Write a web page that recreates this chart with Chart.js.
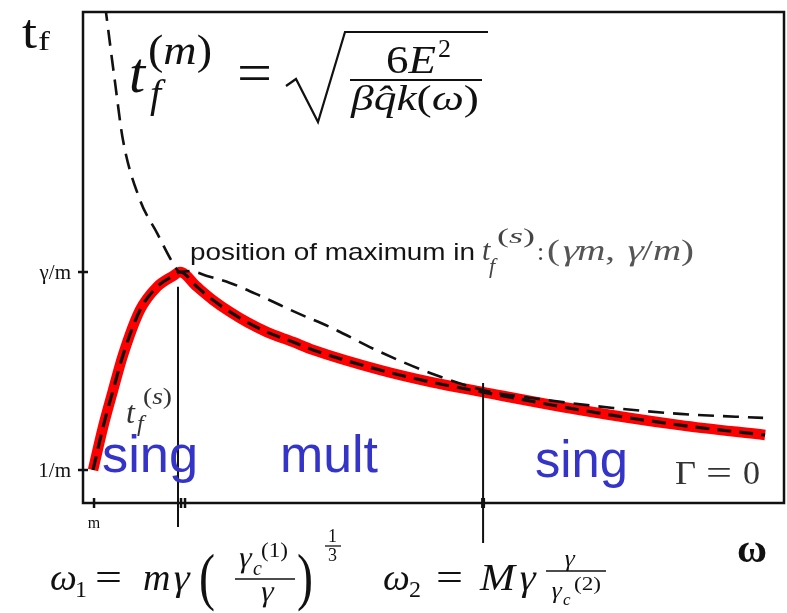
<!DOCTYPE html>
<html>
<head>
<meta charset="utf-8">
<script src="https://cdn.jsdelivr.net/npm/chart.js@4.4.0/dist/chart.umd.min.js"></script>
<style>
  body { margin: 0; background: #fff; }
  #wrap { width: 787px; height: 613px; }
</style>
</head>
<body>
<div id="wrap"><canvas id="plot" width="787" height="613"></canvas></div>
<script>
// omega in units where m = 1, gamma*m = 7 ; t_f in units where 1/m = 1, gamma/m = 7
const singX = [0.93, 1.63, 2.33, 3.02, 4.21, 5.40, 6.51, 7.0, 8.19, 9.30, 10.49, 11.68, 13.07, 14.89, 16.28, 20.96, 24.45, 28.15, 34.92, 41.89, 47.83];
const singY = [1.0, 2.30, 3.42, 4.48, 5.85, 6.55, 6.88, 7.0, 6.55, 6.15, 5.79, 5.48, 5.18, 4.88, 4.64, 4.03, 3.67, 3.36, 2.82, 2.36, 2.06];

const multX = [1.77, 2.47, 3.02, 4.21, 5.40, 6.51, 7.0, 7.70, 8.89, 10.49, 12.79, 15.17, 17.47, 20.96, 24.45, 28.15, 32.61, 37.22, 41.89, 47.69];
const multY = [15.09, 12.73, 11.0, 9.18, 8.18, 7.27, 7.0, 7.03, 6.88, 6.67, 6.24, 5.76, 5.33, 4.58, 3.94, 3.42, 3.12, 2.88, 2.70, 2.58];

// region boundaries omega_1, omega_2 (vertical markers)
const boundX = [6.86, 28.15];
const boundTop = [6.55, 3.64];
const boundBottom = [-0.73, -1.21];

const yTicks = [1, 7];
const yTickLabels = ['1/m', 'γ/m'];
const xTicks = [1, 7.07, 7.35, 28.15];
const xTickLabels = ['m', '', '', ''];

const pts = (xs, ys) => xs.map((x, i) => ({ x: x, y: ys[i] }));

const SERIF = '"Liberation Serif", "DejaVu Serif", serif';
const SANS = '"Liberation Sans", Arial, sans-serif';
const BLUE = '#3434c8';

function put(ctx, s, x, base, font, color, w) {
  ctx.save();
  ctx.font = font;
  ctx.fillStyle = color;
  ctx.textAlign = 'left';
  ctx.textBaseline = 'alphabetic';
  ctx.translate(x, base);
  if (w) {
    const m = ctx.measureText(s).width;
    ctx.scale(w / m, 1);
  }
  ctx.fillText(s, 0, 0);
  ctx.restore();
}

// math run: tokens [text, kind], kind i = italic, r = roman, g = slanted roman (greek)
function run(ctx, x, base, size, tokens, color, fitW) {
  const fontOf = k => (k === 'i' ? 'italic ' : '') + size + 'px ' + SERIF;
  ctx.save();
  ctx.textAlign = 'left';
  ctx.textBaseline = 'alphabetic';
  let total = 0;
  const ws = tokens.map(([t, k]) => {
    ctx.font = fontOf(k);
    const w = ctx.measureText(t).width;
    total += w;
    return w;
  });
  ctx.translate(x, base);
  if (fitW) ctx.scale(fitW / total, 1);
  ctx.fillStyle = color;
  let cx = 0;
  tokens.forEach(([t, k], i) => {
    ctx.save();
    ctx.font = fontOf(k);
    ctx.translate(cx, 0);
    if (k === 'g') ctx.transform(1, 0, -0.22, 1, 0, 0);
    ctx.fillText(t, 0, 0);
    ctx.restore();
    cx += ws[i];
  });
  ctx.restore();
}

function hline(ctx, x0, x1, y, lw) {
  ctx.beginPath();
  ctx.lineWidth = lw;
  ctx.moveTo(x0, y);
  ctx.lineTo(x1, y);
  ctx.stroke();
}

const decor = {
  id: 'decor',
  afterDatasetsDraw(chart) {
    const ctx = chart.ctx;
    const a = chart.chartArea;
    const xs = chart.scales.x, ys = chart.scales.y;
    const INK = '#111';
    ctx.save();
    ctx.strokeStyle = INK;
    ctx.fillStyle = INK;

    // frame
    ctx.lineWidth = 2.5;
    ctx.strokeRect(a.left, a.top, a.right - a.left, a.bottom - a.top);

    // ticks across the axes
    yTicks.forEach((v, i) => {
      const py = ys.getPixelForValue(v);
      hline(ctx, a.left - 5, a.left + 5, py, 2.5);
      const font = '21px ' + SERIF;
      ctx.font = font;
      const w = ctx.measureText(yTickLabels[i]).width;
      put(ctx, yTickLabels[i], a.left - 12 - w, py + 7, font, INK);
    });
    xTicks.forEach((v, i) => {
      const px = xs.getPixelForValue(v);
      ctx.beginPath();
      ctx.lineWidth = i === xTicks.length - 1 ? 4 : 2.5;
      ctx.moveTo(px, a.bottom - 5);
      ctx.lineTo(px, a.bottom + 5);
      ctx.stroke();
      if (xTickLabels[i]) {
        ctx.font = '16px ' + SERIF;
        const w = ctx.measureText(xTickLabels[i]).width;
        put(ctx, xTickLabels[i], px - w / 2, a.bottom + 25, ctx.font, INK);
      }
    });

    // axis titles
    put(ctx, 't', 22, 48, '48px ' + SERIF, INK, 15);
    put(ctx, 'f', 38, 50, '28px ' + SERIF, INK, 12);
    put(ctx, 'ω', 737, 562, 'bold 40px ' + SERIF, INK, 30);

    // t_f^(m) = sqrt(6E^2 / (beta qhat k(omega)))
    put(ctx, 't', 129, 92, 'italic 58px ' + SERIF, INK);
    run(ctx, 148, 64, 42, [['(', 'r'], ['m', 'i'], [')', 'r']], INK, 64);
    put(ctx, 'f', 150, 107, 'italic 40px ' + SERIF, INK);
    put(ctx, '=', 237, 92, '56px ' + SERIF, INK, 35);
    ctx.beginPath();
    ctx.lineWidth = 2.2;
    ctx.lineJoin = 'miter';
    ctx.moveTo(286, 86);
    ctx.lineTo(296, 79);
    ctx.lineTo(318, 122);
    ctx.lineTo(345, 32);
    ctx.lineTo(488, 32);
    ctx.stroke();
    run(ctx, 386, 73, 40, [['6', 'r'], ['E', 'i']], INK, 50);
    put(ctx, '2', 438, 57, '26px ' + SERIF, INK);
    hline(ctx, 350, 482, 80, 1.8);
    run(ctx, 351, 110, 36, [['β', 'i'], ['q̂', 'i'], ['k', 'i'], ['(', 'r'], ['ω', 'i'], [')', 'r']], INK, 128);

    // annotation of the maximum
    put(ctx, 'position of maximum in', 190, 260, '24px ' + SANS, '#141414', 285);
    put(ctx, 't', 482, 260, 'italic 30px ' + SERIF, '#444');
    run(ctx, 497, 243, 22, [['(', 'r'], ['s', 'i'], [')', 'r']], '#444', 38);
    put(ctx, 'f', 489, 273, 'italic 22px ' + SERIF, '#444');
    put(ctx, ':', 537, 260, '26px ' + SERIF, '#444');
    run(ctx, 547, 260, 30, [['(', 'r'], ['γ', 'g'], ['m', 'i'], [',', 'r'], [' ', 'r'], ['γ', 'g'], ['/', 'r'], ['m', 'i'], [')', 'r']], '#555', 147);

    // t_f^(s) next to the rising branch
    put(ctx, 't', 126, 423, 'italic 32px ' + SERIF, '#333');
    run(ctx, 143, 404, 24, [['(', 'r'], ['s', 'i'], [')', 'r']], '#333', 29);
    put(ctx, 'f', 137, 431, 'italic 24px ' + SERIF, '#333');

    // region names
    put(ctx, 'sing', 102, 472, '52px ' + SANS, BLUE, 96);
    put(ctx, 'mult', 280, 472, '52px ' + SANS, BLUE, 98);
    put(ctx, 'sing', 535, 477, '52px ' + SANS, BLUE, 93);
    put(ctx, 'Γ', 675, 484, '34px ' + SERIF, '#333', 21);
    put(ctx, '=', 706, 484, '34px ' + SERIF, '#333', 26);
    put(ctx, '0', 743, 484, '34px ' + SERIF, '#333', 17);

    // omega_1 = m gamma (gamma_c^(1) / gamma)^(1/3)
    put(ctx, 'ω', 50, 590, 'italic 38px ' + SERIF, INK);
    put(ctx, '1', 75, 597, '24px ' + SERIF, INK);
    put(ctx, '=', 95, 590, '38px ' + SERIF, INK, 27);
    put(ctx, 'm', 143, 590, 'italic 38px ' + SERIF, INK);
    run(ctx, 171, 590, 38, [['γ', 'g']], INK);
    put(ctx, '(', 199, 598, '64px ' + SERIF, INK, 16);
    run(ctx, 237, 567, 30, [['γ', 'g']], INK);
    put(ctx, 'c', 253, 575, 'italic 20px ' + SERIF, INK);
    put(ctx, '(1)', 261, 557, '20px ' + SERIF, INK, 27);
    hline(ctx, 235, 295, 579, 1.6);
    run(ctx, 259, 601, 30, [['γ', 'g']], INK);
    put(ctx, ')', 297, 598, '64px ' + SERIF, INK, 16);
    put(ctx, '1', 328, 542, '18px ' + SERIF, INK);
    hline(ctx, 325, 341, 546, 1.3);
    put(ctx, '3', 328, 561, '18px ' + SERIF, INK);

    // omega_2 = M gamma gamma / gamma_c^(2)
    put(ctx, 'ω', 383, 590, 'italic 38px ' + SERIF, INK);
    put(ctx, '2', 409, 597, '24px ' + SERIF, INK);
    put(ctx, '=', 436, 590, '38px ' + SERIF, INK, 27);
    put(ctx, 'M', 480, 590, 'italic 38px ' + SERIF, INK, 35);
    run(ctx, 517, 590, 38, [['γ', 'g']], INK);
    run(ctx, 563, 566, 24, [['γ', 'g']], INK);
    hline(ctx, 546, 606, 571, 1.6);
    run(ctx, 550, 598, 24, [['γ', 'g']], INK);
    put(ctx, 'c', 563, 605, 'italic 17px ' + SERIF, INK);
    put(ctx, '(2)', 574, 590, '18px ' + SERIF, INK, 27);

    ctx.restore();
  }
};

new Chart(document.getElementById('plot'), {
  type: 'scatter',
  data: {
    datasets: [
      {
        data: pts(singX, singY),
        showLine: true,
        borderColor: '#ff0000',
        borderWidth: 10.5,
        cubicInterpolationMode: 'monotone',
        pointRadius: 0,
        order: 3
      },
      {
        data: pts(singX, singY),
        showLine: true,
        borderColor: '#111',
        borderWidth: 3.2,
        borderDash: [14, 8],
        cubicInterpolationMode: 'monotone',
        pointRadius: 0,
        order: 2
      },
      {
        data: pts(multX, multY),
        showLine: true,
        borderColor: '#111',
        borderWidth: 2.6,
        borderDash: [16, 9],
        cubicInterpolationMode: 'monotone',
        pointRadius: 0,
        order: 1
      },
      ...boundX.map((x, i) => ({
        data: [{ x: x, y: boundTop[i] }, { x: x, y: boundBottom[i] }],
        showLine: true,
        borderColor: '#111',
        borderWidth: 2,
        pointRadius: 0,
        clip: false,
        order: 0
      }))
    ]
  },
  options: {
    responsive: false,
    animation: false,
    layout: { padding: { left: 83, top: 12, right: 3, bottom: 110 } },
    scales: {
      x: { type: 'linear', display: false, min: 0.23, max: 49.15 },
      y: { type: 'linear', display: false, min: 0, max: 14.88 }
    },
    plugins: { legend: { display: false }, tooltip: { enabled: false } }
  },
  plugins: [decor]
});
</script>
</body>
</html>
